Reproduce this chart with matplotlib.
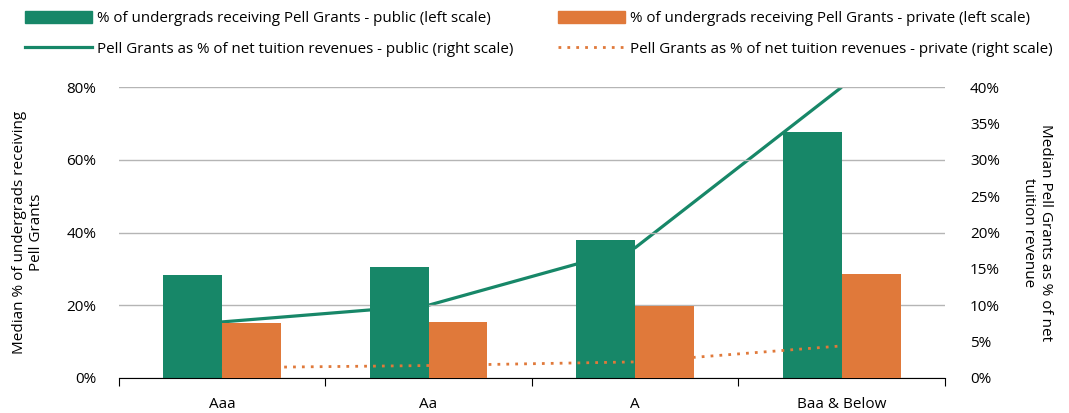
import numpy as np
import matplotlib.pyplot as plt
from matplotlib.patches import Patch
from matplotlib.lines import Line2D

plt.rcParams['font.family'] = ['Open Sans', 'DejaVu Sans']

# data
ratings = ['Aaa', 'Aa', 'A', 'Baa & Below']
pell_share_public = [28.3, 30.5, 37.9, 67.7]     # left scale, %
pell_share_private = [15.1, 15.4, 19.8, 28.6]    # left scale, %
pell_rev_public = [7.7, 10.0, 17.9, 40.0]        # right scale, %
pell_rev_private = [1.4, 1.7, 2.2, 4.4]          # right scale, %

green = '#178768'
orange = '#e0793a'
grid_col = '#b5b5b5'
dots = (0, (1, 2.2))

fig = plt.figure(figsize=(10.69, 4.13), dpi=100)
ax = fig.add_axes([0.111, 0.085, 0.773, 0.704])
ax2 = ax.twinx()

x = np.arange(len(ratings))
w = 0.285
ax.set_xlim(-0.5, len(ratings) - 0.5)
ax.set_ylim(0, 80)
ax2.set_ylim(0, 40)

# lines use the right scale but are stacked between the bars
ax.plot(x, pell_rev_public, color=green, linewidth=2.3, solid_capstyle='butt',
        transform=ax2.transData, zorder=1.5)
ax.bar(x - w / 2, pell_share_public, width=w, color=green, zorder=2)
ax.plot(x, pell_rev_private, color=orange, linewidth=2, linestyle=dots,
        transform=ax2.transData, zorder=2.5)
ax.bar(x + w / 2, pell_share_private, width=w, color=orange, zorder=3)

ax.set_yticks([0, 20, 40, 60, 80])
ax.set_yticklabels([f'{v}%' for v in [0, 20, 40, 60, 80]], fontsize=11)
ax2.set_yticks(range(0, 45, 5))
ax2.set_yticklabels([f'{v}%' for v in range(0, 45, 5)], fontsize=11)
ax.yaxis.grid(True, color=grid_col, linewidth=1, zorder=0.5)

ax.set_xticks(np.arange(-0.5, len(ratings)), minor=False)
ax.set_xticklabels([])
ax.set_xticks(x, minor=True)
ax.set_xticklabels(ratings, minor=True, fontsize=11)
ax.tick_params(axis='x', which='major', length=6, direction='out', color='black')
ax.tick_params(axis='x', which='minor', length=0, pad=14)
ax.tick_params(axis='y', length=0, pad=16)
ax2.tick_params(axis='y', length=0, pad=18)

for a in (ax, ax2):
    for s in ['top', 'left', 'right', 'bottom']:
        a.spines[s].set_visible(False)
ax.spines['bottom'].set_visible(True)
ax.spines['bottom'].set_color('black')

ax.set_ylabel('Median % of undergrads receiving\nPell Grants', fontsize=11, labelpad=16)
ax2.set_ylabel('Median Pell Grants as % of net\ntuition revenue', fontsize=11,
               rotation=270, labelpad=38)

left_handles = [
    Patch(color=green, label='% of undergrads receiving Pell Grants - public (left scale)'),
    Line2D([], [], color=green, linewidth=2.3,
           label='Pell Grants as % of net tuition revenues - public (right scale)'),
]
right_handles = [
    Patch(color=orange, label='% of undergrads receiving Pell Grants - private (left scale)'),
    Line2D([], [], color=orange, linewidth=2, linestyle=dots,
           label='Pell Grants as % of net tuition revenues - private (right scale)'),
]
leg_kw = dict(loc='upper left', frameon=False, fontsize=10.9, handlelength=4.4,
              handleheight=0.85, handletextpad=0.35, labelspacing=1.0,
              borderpad=0, borderaxespad=0)
fig.legend(handles=left_handles, bbox_to_anchor=(25 / 1069, 1 - 11 / 413), **leg_kw)
fig.legend(handles=right_handles, bbox_to_anchor=(558 / 1069, 1 - 11 / 413), **leg_kw)

plt.savefig('out.png', dpi=100)
